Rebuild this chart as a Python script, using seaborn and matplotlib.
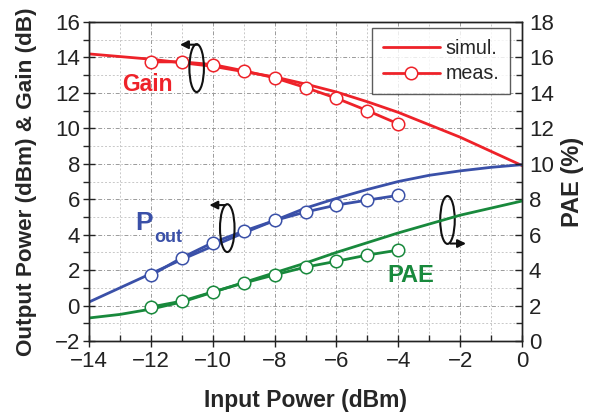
import numpy as np
import pandas as pd
import matplotlib
matplotlib.use("Agg")
import matplotlib.pyplot as plt
import seaborn as sns
from matplotlib.patches import Ellipse
from matplotlib.lines import Line2D
from matplotlib.ticker import MultipleLocator

# ---- data ----
pin_sim = [-14, -13, -12, -11, -10, -9, -8, -7, -6, -5, -4, -3, -2, -1, 0]
gain_sim = [14.2, 14.05, 13.9, 13.7, 13.5, 13.2, 12.9, 12.5, 12.05, 11.5, 10.9, 10.2, 9.5, 8.7, 7.9]
pout_sim = [0.2, 1.0, 1.8, 2.6, 3.35, 4.1, 4.8, 5.5, 6.05, 6.55, 7.0, 7.35, 7.6, 7.8, 7.95]
pae_sim = [1.3, 1.5, 1.8, 2.2, 2.75, 3.3, 3.85, 4.4, 5.0, 5.55, 6.1, 6.6, 7.1, 7.5, 7.9]

pin_meas = [-12, -11, -10, -9, -8, -7, -6, -5, -4]
gain_meas = [13.75, 13.75, 13.6, 13.25, 12.85, 12.3, 11.7, 11.0, 10.25]
pout_meas = [1.7, 2.7, 3.55, 4.2, 4.8, 5.28, 5.67, 5.95, 6.22]
pae_meas = [1.92, 2.25, 2.77, 3.27, 3.73, 4.17, 4.5, 4.85, 5.13]

RED = "#ee2229"
BLUE = "#3a50a8"
GREEN = "#18893c"

sns.set_style("ticks")
plt.rcParams['font.family'] = ['Liberation Sans', 'DejaVu Sans']

fig = plt.figure(figsize=(5.99, 4.12), dpi=100)
ax = fig.add_axes([0.1486, 0.1723, 0.7229, 0.7743])
ax2 = ax.twinx()

sim = pd.DataFrame({"pin": pin_sim, "gain": gain_sim, "pout": pout_sim, "pae": pae_sim})
meas = pd.DataFrame({"pin": pin_meas, "gain": gain_meas, "pout": pout_meas, "pae": pae_meas})

lw = 2.0
ms = 9
mew = 1.1
sns.lineplot(data=sim, x="pin", y="gain", ax=ax, color=RED, linewidth=lw)
sns.lineplot(data=sim, x="pin", y="pout", ax=ax, color=BLUE, linewidth=lw)
sns.lineplot(data=meas, x="pin", y="gain", ax=ax, color=RED, linewidth=lw, marker="o",
             markersize=ms, markerfacecolor="white", markeredgecolor=RED, markeredgewidth=mew)
sns.lineplot(data=meas, x="pin", y="pout", ax=ax, color=BLUE, linewidth=lw, marker="o",
             markersize=ms, markerfacecolor="white", markeredgecolor=BLUE, markeredgewidth=mew)
sns.lineplot(data=sim, x="pin", y="pae", ax=ax2, color=GREEN, linewidth=lw)
sns.lineplot(data=meas, x="pin", y="pae", ax=ax2, color=GREEN, linewidth=lw, marker="o",
             markersize=ms, markerfacecolor="white", markeredgecolor=GREEN, markeredgewidth=mew)

ax.set_xlim(-14, 0)
ax.set_ylim(-2, 16)
ax2.set_ylim(0, 18)

ax.xaxis.set_major_locator(MultipleLocator(2))
ax.xaxis.set_minor_locator(MultipleLocator(1))
ax.yaxis.set_major_locator(MultipleLocator(2))
ax.yaxis.set_minor_locator(MultipleLocator(1))
ax2.yaxis.set_major_locator(MultipleLocator(2))
ax2.yaxis.set_minor_locator(MultipleLocator(1))

ax.grid(which="major", color="#9a9a9a", linestyle=(0, (4, 2, 1, 2)), lw=0.7)
ax.grid(which="minor", color="#c8c8c8", linestyle=(0, (2, 2)), lw=0.7)
ax.set_axisbelow(True)

for a in (ax, ax2):
    for s in a.spines.values():
        s.set_color("#222222")
        s.set_linewidth(1.0)
ax.tick_params(axis="y", which="major", direction="inout", length=9, width=1.0, labelsize=16, colors="#222222", pad=2)
ax.tick_params(axis="y", which="minor", direction="out", length=4, width=1.0)
ax.tick_params(axis="x", which="major", direction="inout", length=9, width=1.0, labelsize=16, colors="#222222", pad=3)
ax.tick_params(axis="x", which="minor", direction="in", length=4, width=1.0)
ax2.tick_params(which="major", direction="in", length=5, width=1.0, labelsize=16, colors="#222222", pad=5)
ax2.tick_params(which="minor", direction="in", length=4, width=1.0)

ax.set_xlabel("Input Power (dBm)", fontsize=16.5, fontweight="bold", labelpad=12)
ax.set_ylabel("Output Power (dBm) & Gain (dB)", fontsize=16.2, fontweight="bold", labelpad=13)
ax2.set_ylabel("PAE (%)", fontsize=17, fontweight="bold", labelpad=5)

# annotations
ax.text(-12.1, 12.45, "Gain", color=RED, fontsize=16.5, fontweight="bold", ha="center", va="center")
ax.text(-12.22, 4.65, "P", color=BLUE, fontsize=19, fontweight="bold", ha="center", va="center")
ax.text(-11.45, 3.85, "out", color=BLUE, fontsize=13, fontweight="bold", ha="center", va="center")
ax.text(-3.6, 1.7, "PAE", color=GREEN, fontsize=17, fontweight="bold", ha="center", va="center")

def ring(cx, cy, ytip, x0, x1):
    ax.add_patch(Ellipse((cx, cy), 0.47, 2.7, fill=False, ec="#111111", lw=1.5, zorder=5))
    ax.annotate("", xy=(x1, ytip), xytext=(x0, ytip),
                arrowprops=dict(arrowstyle="-|>", color="#111111", lw=1.5, mutation_scale=12),
                zorder=5)

ring(-10.52, 13.4, 14.72, -10.4, -11.15)
ring(-9.53, 4.37, 5.67, -9.5, -10.2)
ring(-2.41, 4.83, 3.5, -2.41, -1.72)

handles = [Line2D([0], [0], color=RED, lw=lw),
           Line2D([0], [0], color=RED, lw=lw, marker="o", markersize=ms,
                  markerfacecolor="white", markeredgecolor=RED, markeredgewidth=mew)]
leg = ax.legend(handles, ["simul.", "meas."], loc="upper right",
                bbox_to_anchor=(0.973, 0.982), fontsize=14.2, frameon=True,
                fancybox=False, edgecolor="#333333", handlelength=2.9,
                borderpad=0.55, labelspacing=0.35, handletextpad=0.3, borderaxespad=0)
leg.get_frame().set_linewidth(1.0)

fig.savefig("out.png", dpi=100)
